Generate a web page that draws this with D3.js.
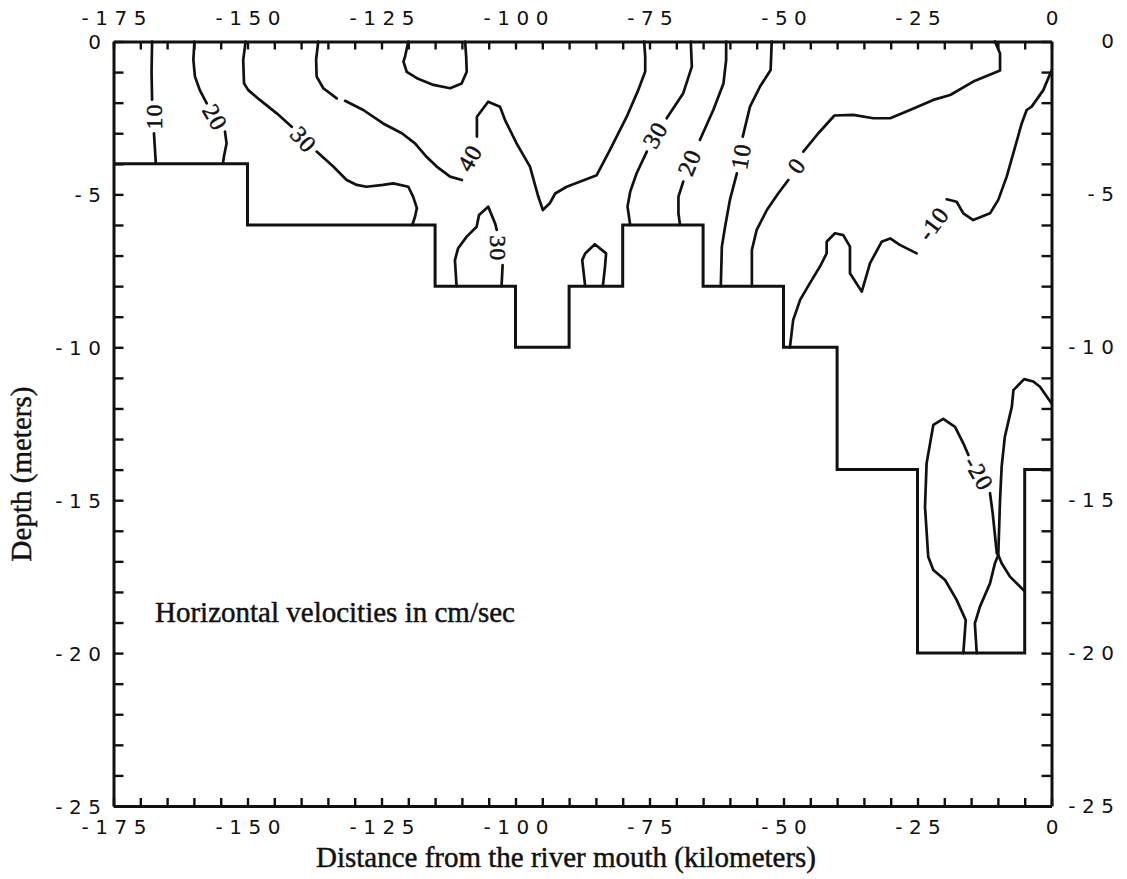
<!DOCTYPE html>
<html>
<head>
<meta charset="utf-8">
<script src="https://cdn.jsdelivr.net/npm/d3@7"></script>
<style>
  html, body { margin: 0; padding: 0; background: #fff; }
  svg { display: block; }
</style>
</head>
<body>
<svg id="chart" width="1127" height="879"></svg>
<script>
// ---- axis ranges and tick labels ----
const xDomain = [-175, 0];          // distance from river mouth, km
const yDomain = [0, -25];           // depth, m
const xMinorTicks = d3.range(-175, 1, 5);
const yMinorTicks = d3.range(0, -26, -1);
const xTickLabels = [-175, -150, -125, -100, -75, -50, -25, 0];
const yTickLabels = [0, -5, -10, -15, -20, -25];

// ---- channel bottom: [from km, to km, depth m] ----
const bottomSteps = [
  [-175, -150, -4],
  [-150, -115, -6],
  [-115, -100, -8],
  [-100, -90, -10],
  [-90, -80, -8],
  [-80, -65, -6],
  [-65, -50, -8],
  [-50, -40, -10],
  [-40, -25, -14],
  [-25, -5, -20],
  [-5, 0, -14]
];

// ---- velocity isolines (cm/s): pieces of [km, depth] ----
const iso10West = [
  [[-167.8, 0], [-167.9, -1.0], [-167.8, -1.9]],
  [[-167.45, -3.0], [-167.1, -4]]
];
const iso20West = [
  [[-159.9, 0], [-160.1, -0.6], [-159.8, -1.15], [-158.9, -1.59], [-157.6, -2.02]],
  [[-154.2, -2.95], [-153.9, -3.33], [-154.4, -3.77], [-154.6, -4]]
];
const iso30West = [
  [[-150.35, 0], [-150.8, -0.6], [-150.65, -1.37], [-149.85, -1.59], [-147.7, -1.91],
   [-144.55, -2.35], [-141.75, -2.79]],
  [[-137.1, -3.6], [-134.0, -4.09], [-131.5, -4.53], [-129.6, -4.69], [-127.8, -4.75],
   [-124.7, -4.69], [-122.8, -4.64], [-120.0, -4.75], [-119.1, -5.07], [-118.4, -5.45],
   [-118.75, -5.73], [-119.25, -6]]
];
const iso40 = [
  [[-136.8, 0], [-137.2, -0.6], [-137.1, -1.15], [-135.85, -1.53], [-133.35, -1.86]],
  [[-131.8, -1.94], [-128.4, -2.24], [-124.7, -2.68], [-121.2, -3.0], [-118.75, -3.33],
   [-116.6, -3.77], [-114.7, -4.09], [-112.2, -4.42], [-110.0, -4.53]],
  [[-107.2, -3.11], [-107.2, -2.46], [-105.1, -1.97], [-102.9, -2.13], [-101.95, -2.57],
   [-99.8, -3.33], [-97.3, -4.09], [-95.75, -5.07], [-94.9, -5.51], [-93.6, -5.29],
   [-92.6, -4.97], [-90.45, -4.75], [-84.85, -4.37], [-82.4, -3.55], [-79.25, -2.46],
   [-77.1, -1.59], [-75.8, -0.98], [-75.8, -0.49], [-76.0, 0]]
];
const iso50Core = [
  [[-120.0, 0], [-120.6, -0.49], [-120.9, -0.66], [-120.3, -0.99], [-118.4, -1.2],
   [-115.3, -1.42], [-112.2, -1.53], [-110.05, -1.37], [-109.1, -0.99], [-109.2, -0.5],
   [-109.4, 0]]
];
const iso30Trough = [
  [[-111.0, -8], [-111.3, -7.15], [-110.7, -6.76], [-109.1, -6.38], [-107.25, -6.06],
   [-106.8, -5.67], [-105.1, -5.4], [-103.8, -5.95], [-103.5, -6.16]],
  [[-102.4, -7.31], [-102.6, -8]]
];
const iso30Pocket = [
  [[-87.0, -8], [-87.55, -7.15], [-87.0, -6.93], [-85.2, -6.63], [-83.1, -6.93],
   [-83.3, -7.36], [-83.7, -8]]
];
const iso30East = [
  [[-67.3, 0], [-67.1, -0.82], [-68.7, -1.69], [-71.8, -2.51]],
  [[-75.5, -3.6], [-77.4, -4.31], [-78.6, -4.91], [-79.1, -5.4], [-78.6, -6]]
];
const iso20East = [
  [[-60.7, 0], [-60.7, -0.6], [-61.2, -1.37], [-63.1, -2.24], [-65.6, -3.22]],
  [[-68.7, -4.58], [-69.6, -5.07], [-69.6, -5.62], [-69.3, -6]]
];
const iso10East = [
  [[-52.2, 0], [-52.4, -0.93], [-54.4, -1.48], [-56.25, -2.13], [-57.6, -3.11]],
  [[-58.7, -4.31], [-60.0, -5.18], [-60.9, -6.06], [-61.5, -6.71], [-61.7, -8]]
];
const iso0 = [
  [[-55.9, -8], [-55.9, -6.82], [-55.0, -6.16], [-53.1, -5.51], [-51.0, -4.97], [-49.1, -4.53]],
  [[-46.3, -3.6], [-43.5, -3.0], [-40.5, -2.42], [-37.0, -2.40], [-33.25, -2.51],
   [-30.1, -2.51], [-26.4, -2.24], [-22.05, -1.91], [-18.9, -1.75], [-14.6, -1.31],
   [-9.6, -0.95], [-9.6, -0.39], [-10.55, 0]]
];
const isoMinus10 = [
  [[0, -0.95], [-1.53, -1.59], [-3.7, -2.13], [-4.63, -2.24], [-5.56, -2.68], [-7.13, -3.66],
   [-8.36, -4.42], [-9.93, -5.18], [-11.47, -5.62], [-14.6, -5.84], [-16.45, -5.62],
   [-17.7, -5.24], [-19.55, -5.16]],
  [[-25.15, -6.93], [-28.3, -6.65], [-30.1, -6.44], [-31.7, -6.55], [-33.85, -7.25],
   [-35.4, -8.18], [-37.6, -7.58], [-37.6, -6.71], [-38.85, -6.33], [-40.4, -6.27],
   [-41.95, -6.55], [-41.95, -6.93], [-43.2, -7.36], [-45.1, -7.91], [-46.9, -8.45],
   [-48.2, -9.11], [-48.8, -10]]
];
const isoMinus20 = [
  [[-16.45, -20], [-16.0, -18.92], [-17.7, -18.26], [-19.85, -17.61], [-22.05, -17.28],
   [-23.0, -16.85], [-23.6, -15.21], [-23.3, -13.79], [-22.05, -12.54], [-20.2, -12.34],
   [-18.0, -12.6], [-16.45, -13.14], [-15.5, -13.52]],
  [[-11.47, -14.77], [-10.97, -15.43], [-10.2, -16.74], [-9.93, -16.79], [-9.3, -17.06],
   [-7.75, -17.5], [-5.0, -17.98]],
  [[0, -11.83], [-2.15, -11.29], [-3.4, -11.12], [-5.1, -11.04], [-7.1, -11.4], [-7.4, -11.94],
   [-8.7, -12.92], [-9.3, -13.9], [-9.6, -14.99], [-9.8, -16.08], [-9.93, -16.79],
   [-10.55, -17.06], [-11.47, -17.72], [-13.35, -18.48], [-14.3, -19.03], [-13.95, -20]]
];

// isoline labels: text, km, depth, rotation (deg)
const isoLabels = [
  ["10", -167.6, -2.45, -90],
  ["20", -156.0, -2.48, 60],
  ["30", -139.5, -3.2, 48],
  ["40", -108.6, -3.8, -60],
  ["30", -103.2, -6.76, 90],
  ["30", -74.0, -3.05, -60],
  ["20", -67.6, -3.95, -68],
  ["10", -58.0, -3.75, -80],
  ["0", -47.6, -4.05, -55],
  ["-10", -22.1, -5.95, -53],
  ["-20", -13.5, -14.12, 60]
];

const isolines = [iso10West, iso20West, iso30West, iso40, iso50Core, iso30Trough,
  iso30Pocket, iso30East, iso20East, iso10East, iso0, isoMinus10, isoMinus20];

// ---- layout ----
const svg = d3.select("#chart");
const plot = { left: 113.5, right: 1051.5, top: 41.5, bottom: 806 };
const x = d3.scaleLinear().domain(xDomain).range([plot.left, plot.right]);
const y = d3.scaleLinear().domain(yDomain).range([plot.top, plot.bottom]);

svg.append("rect").attr("width", 1127).attr("height", 879).attr("fill", "#fff");

const ink = "#111";
const tickFont = "'DejaVu Sans', sans-serif";
const serif = "'Liberation Serif', 'Times New Roman', serif";
const ls = 6.5; // letter spacing on tick labels

// channel bottom as a stepped line
const stepPts = [];
bottomSteps.forEach(([a, b, d]) => { stepPts.push([a, d]); stepPts.push([b, d]); });
const line = d3.line().x(d => x(d[0])).y(d => y(d[1]));
svg.append("path")
  .attr("d", line(stepPts))
  .attr("fill", "none").attr("stroke", ink).attr("stroke-width", 3)
  .attr("stroke-linejoin", "miter");

// isolines
const isoG = svg.append("g")
  .attr("fill", "none").attr("stroke", ink).attr("stroke-width", 2.7)
  .attr("stroke-linejoin", "round").attr("stroke-linecap", "round");
isolines.forEach(pieces => {
  pieces.forEach(p => isoG.append("path").attr("d", line(p)));
});

svg.append("g").selectAll("text").data(isoLabels).join("text")
  .attr("transform", d => `translate(${x(d[1])},${y(d[2])}) rotate(${d[3]})`)
  .attr("text-anchor", "middle").attr("dy", "0.35em")
  .attr("font-family", serif).attr("font-size", 24)
  .attr("letter-spacing", 1).attr("fill", ink)
  .attr("stroke", ink).attr("stroke-width", 0.5)
  .text(d => d[0]);

// ---- axes: inward minor ticks on all four sides ----
function styleTicks(g) {
  g.selectAll("path.domain").attr("stroke", ink).attr("stroke-width", 3);
  g.selectAll(".tick line").attr("stroke", ink).attr("stroke-width", 2.4);
  g.selectAll(".tick text").remove();
}
svg.append("g").attr("transform", `translate(0,${plot.bottom})`)
  .call(d3.axisBottom(x).tickValues(xMinorTicks).tickSizeInner(-8).tickSizeOuter(0))
  .call(styleTicks);
svg.append("g").attr("transform", `translate(0,${plot.top})`)
  .call(d3.axisTop(x).tickValues(xMinorTicks).tickSizeInner(-8).tickSizeOuter(0))
  .call(styleTicks);
svg.append("g").attr("transform", `translate(${plot.left},0)`)
  .call(d3.axisLeft(y).tickValues(yMinorTicks).tickSizeInner(-10).tickSizeOuter(0))
  .call(styleTicks);
svg.append("g").attr("transform", `translate(${plot.right},0)`)
  .call(d3.axisRight(y).tickValues(yMinorTicks).tickSizeInner(-10).tickSizeOuter(0))
  .call(styleTicks);

// tick labels
function styleLabels(g) {
  g.select("path.domain").remove();
  g.selectAll(".tick line").remove();
  g.selectAll(".tick text")
    .attr("font-family", tickFont).attr("font-size", 20)
    .attr("letter-spacing", ls).attr("fill", ink);
}
const fmt = d => String(d);
svg.append("g").attr("transform", `translate(0,${plot.bottom})`)
  .call(d3.axisBottom(x).tickValues(xTickLabels).tickSize(0).tickPadding(13.5).tickFormat(fmt))
  .call(styleLabels)
  .selectAll(".tick text").attr("dx", ls / 2);
svg.append("g").attr("transform", `translate(0,${plot.top})`)
  .call(d3.axisTop(x).tickValues(xTickLabels).tickSize(0).tickPadding(16.5).tickFormat(fmt))
  .call(styleLabels)
  .selectAll(".tick text").attr("dx", ls / 2);
svg.append("g").attr("transform", `translate(${plot.left},0)`)
  .call(d3.axisLeft(y).tickValues(yTickLabels).tickSize(0).tickPadding(12.5 - ls).tickFormat(fmt))
  .call(styleLabels)
  .selectAll(".tick text").attr("dy", "0.37em");
svg.append("g").attr("transform", `translate(${plot.right},0)`)
  .call(d3.axisRight(y).tickValues(yTickLabels).tickSize(0).tickFormat(fmt))
  .call(styleLabels)
  .selectAll(".tick text").attr("text-anchor", "end").attr("x", 1114 + ls - plot.right);

// ---- titles and note ----
const titleStyle = t => t.attr("font-family", serif).attr("font-size", 29)
  .attr("fill", ink).attr("stroke", ink).attr("stroke-width", 0.45);
svg.append("text")
  .attr("x", 566).attr("y", 867).attr("text-anchor", "middle")
  .call(titleStyle)
  .text("Distance from the river mouth (kilometers)");
svg.append("text")
  .attr("transform", "translate(31,474) rotate(-90)").attr("text-anchor", "middle")
  .call(titleStyle)
  .text("Depth (meters)");
svg.append("text")
  .attr("x", 155).attr("y", 622)
  .call(titleStyle)
  .text("Horizontal velocities in cm/sec");
</script>
</body>
</html>
